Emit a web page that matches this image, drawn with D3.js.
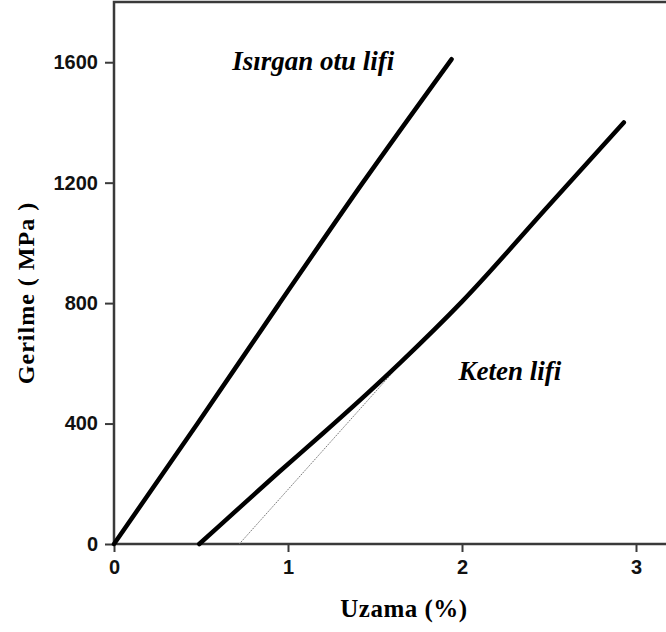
<!DOCTYPE html>
<html>
<head>
<meta charset="utf-8">
<script src="https://cdn.jsdelivr.net/npm/d3@7"></script>
<style>
  body { margin: 0; background: #fff; }
  svg { display: block; }
</style>
</head>
<body>
<svg width="666" height="632"></svg>
<script>
// stress-strain curves
const isirganStrain = [0, 0.48, 0.94, 1.43, 1.94];
const isirganStress = [0, 400, 790, 1200, 1610];

const ketenStrain = [0.49, 0.72, 0.95, 1.2, 1.45, 1.65, 2.0, 2.5, 2.93];
const ketenStress = [0, 120, 240, 367, 497, 605, 805, 1125, 1400];

// thin tangent line under the keten curve
const tangentStrain = [0.72, 1.61];
const tangentStress = [0, 575];

const xTicks = [0, 1, 2, 3];
const yTicks = [0, 400, 800, 1200, 1600];

const labels = [
    { text: "Isırgan otu lifi", x: 0.68, y: 1575 },
    { text: "Keten lifi", x: 1.98, y: 545 }
];

var svg = d3.select("svg"),
    width = +svg.attr("width"),
    height = +svg.attr("height");

var x = d3.scaleLinear().domain([0, 3]).range([114, 636]);
var y = d3.scaleLinear().domain([0, 1800]).range([544, 2]);

function zip(xs, ys) {
    return xs.map((v, i) => [v, ys[i]]);
}

var line = d3.line()
    .x(d => x(d[0]))
    .y(d => y(d[1]))
    .curve(d3.curveMonotoneX);

// frame: top and left lines, plot runs off the right edge
svg.append("path")
    .attr("d", "M" + (width + 5) + "," + y(1800) + "H" + x(0) + "V" + y(0))
    .attr("fill", "none")
    .attr("stroke", "#3a3a3a")
    .attr("stroke-width", 2.5);

// axes
var xAxis = svg.append("g")
    .attr("transform", "translate(0," + y(0) + ")")
    .call(d3.axisBottom(x).tickValues(xTicks).tickFormat(d3.format("d")).tickSize(8).tickSizeOuter(0).tickPadding(8));

var yAxis = svg.append("g")
    .attr("transform", "translate(" + x(0) + ",0)")
    .call(d3.axisLeft(y).tickValues(yTicks).tickFormat(d3.format("d")).tickSize(9).tickSizeOuter(0).tickPadding(7));

xAxis.select(".domain").attr("d", "M" + x(0) + ",0H" + (width + 5));
yAxis.select(".domain").remove();

[xAxis, yAxis].forEach(a => {
    a.selectAll(".domain").attr("stroke", "#3a3a3a").attr("stroke-width", 2.5);
    a.selectAll(".tick line").attr("stroke", "#3a3a3a").attr("stroke-width", 2);
    a.selectAll(".tick text")
        .attr("fill", "#111")
        .style("font-family", "'Liberation Sans', Arial, sans-serif")
        .style("font-weight", "bold")
        .style("font-size", "20px");
});

// tangent line
svg.append("path")
    .datum(zip(tangentStrain, tangentStress))
    .attr("d", line)
    .attr("fill", "none")
    .attr("stroke", "#777")
    .attr("stroke-width", 1)
    .attr("stroke-dasharray", "1.5,1");

// curves
[zip(isirganStrain, isirganStress), zip(ketenStrain, ketenStress)].forEach(d => {
    svg.append("path")
        .datum(d)
        .attr("d", line)
        .attr("fill", "none")
        .attr("stroke", "#000")
        .attr("stroke-width", 4.5)
        .attr("stroke-linecap", "round")
        .attr("stroke-linejoin", "round");
});

// curve names
svg.selectAll(".curve-label")
    .data(labels)
    .enter().append("text")
    .attr("class", "curve-label")
    .attr("x", d => x(d.x))
    .attr("y", d => y(d.y))
    .text(d => d.text)
    .style("font-family", "'Liberation Serif', 'Times New Roman', serif")
    .style("font-style", "italic")
    .style("font-weight", "bold")
    .style("font-size", "27px");

// axis titles
svg.append("text")
    .attr("x", 404)
    .attr("y", 617)
    .attr("text-anchor", "middle")
    .text("Uzama (%)")
    .style("font-family", "'Liberation Serif', 'Times New Roman', serif")
    .style("font-weight", "bold")
    .style("font-size", "25px")
    .style("letter-spacing", "0.5px");

svg.append("text")
    .attr("transform", "translate(34,293) rotate(-90)")
    .attr("text-anchor", "middle")
    .text("Gerilme ( MPa )")
    .style("font-family", "'Liberation Serif', 'Times New Roman', serif")
    .style("font-weight", "bold")
    .style("font-size", "24px")
    .style("letter-spacing", "1px");
</script>
</body>
</html>
